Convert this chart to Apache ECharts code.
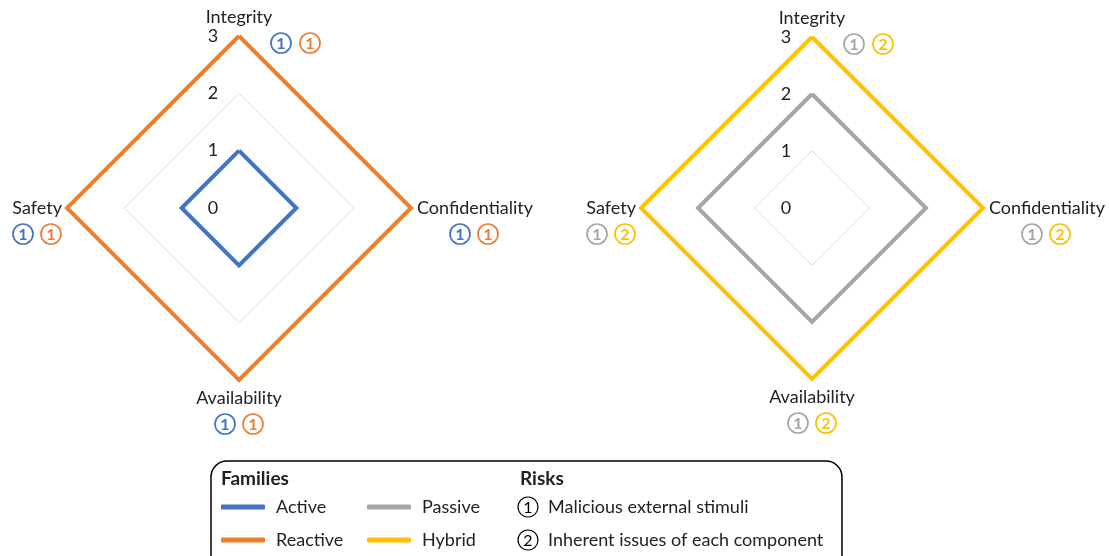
<!DOCTYPE html>
<html><head><meta charset="utf-8">
<script src="https://cdn.jsdelivr.net/npm/echarts@6/dist/echarts.min.js"></script>
<style>html,body{margin:0;padding:0;background:#fff}#c{width:1109px;height:556px}</style>
</head><body><div id="c"></div>
<script>
const axes = ['Integrity', 'Confidentiality', 'Availability', 'Safety'];
const tickLabels = ['0', '1', '2', '3'];
const maxValue = 3;
const activeValues = [1, 1, 1, 1];
const reactiveValues = [3, 3, 3, 3];
const passiveValues = [2, 2, 2, 2];
const hybridValues = [3, 3, 3, 3];
const leftRisks = [1, 1];   // Active, Reactive
const rightRisks = [1, 2];  // Passive, Hybrid
const riskNames = ['Malicious external stimuli', 'Inherent issues of each component'];

const COLORS = { Active: '#4472C4', Reactive: '#ED7D31', Passive: '#A5A5A5', Hybrid: '#FFC000' };
const FONT = 'Lato';
const FS = 18;
const L = { cx: 239, cy: 208, r: 172 };
const R = { cx: 812, cy: 208, r: 171 };

const chart = echarts.init(document.getElementById('c'), null, { renderer: 'canvas' });

// ECharts radar order: top, then counter-clockwise (left, bottom, right)
const order = ['Integrity', 'Safety', 'Availability', 'Confidentiality'];
function reorder(vals) { return order.map(n => vals[axes.indexOf(n)]); }
const indicator = order.map(n => ({ name: n, min: 0, max: maxValue }));

function radarCfg(p) {
  return {
    center: [p.cx, p.cy], radius: p.r, startAngle: 90, shape: 'polygon',
    indicator: indicator, splitNumber: 3,
    axisName: { show: false },
    axisLine: { show: false }, axisTick: { show: false }, axisLabel: { show: false },
    splitArea: { show: false },
    splitLine: { lineStyle: { color: '#d9d9d9', width: 1 } }
  };
}
function item(name, vals) {
  return { name: name, value: reorder(vals), symbol: 'none',
    itemStyle: { color: COLORS[name] },
    lineStyle: { color: COLORS[name], width: 4, join: 'miter' } };
}

function circle(x, y, num, color, bold) {
  return { type: 'group', x: x, y: y, children: [
    { type: 'circle', shape: { cx: 0, cy: 0, r: 10 }, style: { fill: '#fff', stroke: color, lineWidth: bold ? 1.7 : 1.2 } },
    { type: 'text', x: 0, y: 1, style: { text: String(num), fill: color, font: (bold ? 'bold ' : '') + '16px ' + FONT, align: 'center', verticalAlign: 'middle' } }
  ]};
}
function text(x, y, t, opts) {
  return Object.assign({ type: 'text', x: x, y: y, style: Object.assign({ text: t, fill: '#222', font: FS + 'px ' + FONT, align: 'center', verticalAlign: 'middle' }, opts || {}) });
}

function chartLabels(p, risks, names) {
  const g = [];
  const c1 = COLORS[names[0]], c2 = COLORS[names[1]];
  // ticks
  tickLabels.forEach((t, i) => g.push(text(p.cx - 26, p.cy - p.r * i / maxValue, t)));
  // Integrity (top)
  g.push(text(p.cx, p.cy - p.r - 19, 'Integrity'));
  g.push(circle(p.cx + 42, p.cy - p.r + 7, risks[0], c1, true));
  g.push(circle(p.cx + 71, p.cy - p.r + 7, risks[1], c2, true));
  // Safety (left)
  g.push(text(p.cx - p.r - 5, p.cy, 'Safety', { align: 'right' }));
  g.push(circle(p.cx - p.r - 44, p.cy + 26, risks[0], c1, true));
  g.push(circle(p.cx - p.r - 16, p.cy + 26, risks[1], c2, true));
  // Confidentiality (right)
  g.push(text(p.cx + p.r + 6, p.cy, 'Confidentiality', { align: 'left' }));
  g.push(circle(p.cx + p.r + 49, p.cy + 26, risks[0], c1, true));
  g.push(circle(p.cx + p.r + 77, p.cy + 26, risks[1], c2, true));
  // Availability (bottom)
  g.push(text(p.cx, p.cy + p.r + 18, 'Availability'));
  g.push(circle(p.cx - 14, p.cy + p.r + 44, risks[0], c1, true));
  g.push(circle(p.cx + 14, p.cy + p.r + 44, risks[1], c2, true));
  return g;
}

const graphics = [].concat(
  chartLabels(L, leftRisks, ['Active', 'Reactive']),
  chartLabels(R, rightRisks, ['Passive', 'Hybrid']),
  [
    { type: 'rect', shape: { x: 211, y: 461, width: 631, height: 120, r: 16 }, style: { fill: 'none', stroke: '#000', lineWidth: 1.5 } },
    text(221, 479, 'Families', { align: 'left', font: 'bold 19px ' + FONT }),
    text(520, 479, 'Risks', { align: 'left', font: 'bold 19px ' + FONT }),
    circle(528, 507, 1, '#000', false),
    circle(528, 540, 2, '#000', false),
    text(548, 507, riskNames[0], { align: 'left' }),
    text(548, 540, riskNames[1], { align: 'left' })
  ]
);

const legendBase = {
  orient: 'vertical', icon: 'roundRect', itemWidth: 44, itemHeight: 5, itemGap: 11, padding: 0,
  selectedMode: false,
  textStyle: { fontFamily: FONT, fontSize: FS, color: '#222', padding: [0, 0, 0, 6], lineHeight: 22 }
};

chart.setOption({
  animation: false,
  textStyle: { fontFamily: FONT },
  radar: [radarCfg(L), radarCfg(R)],
  legend: [
    Object.assign({}, legendBase, { data: ['Active', 'Reactive'], left: 221, top: 496 }),
    Object.assign({}, legendBase, { data: ['Passive', 'Hybrid'], left: 367, top: 496 })
  ],
  series: [
    { type: 'radar', radarIndex: 0, data: [item('Reactive', reactiveValues), item('Active', activeValues)] },
    { type: 'radar', radarIndex: 1, data: [item('Passive', passiveValues), item('Hybrid', hybridValues)] }
  ],
  graphic: graphics
});
</script></body></html>
